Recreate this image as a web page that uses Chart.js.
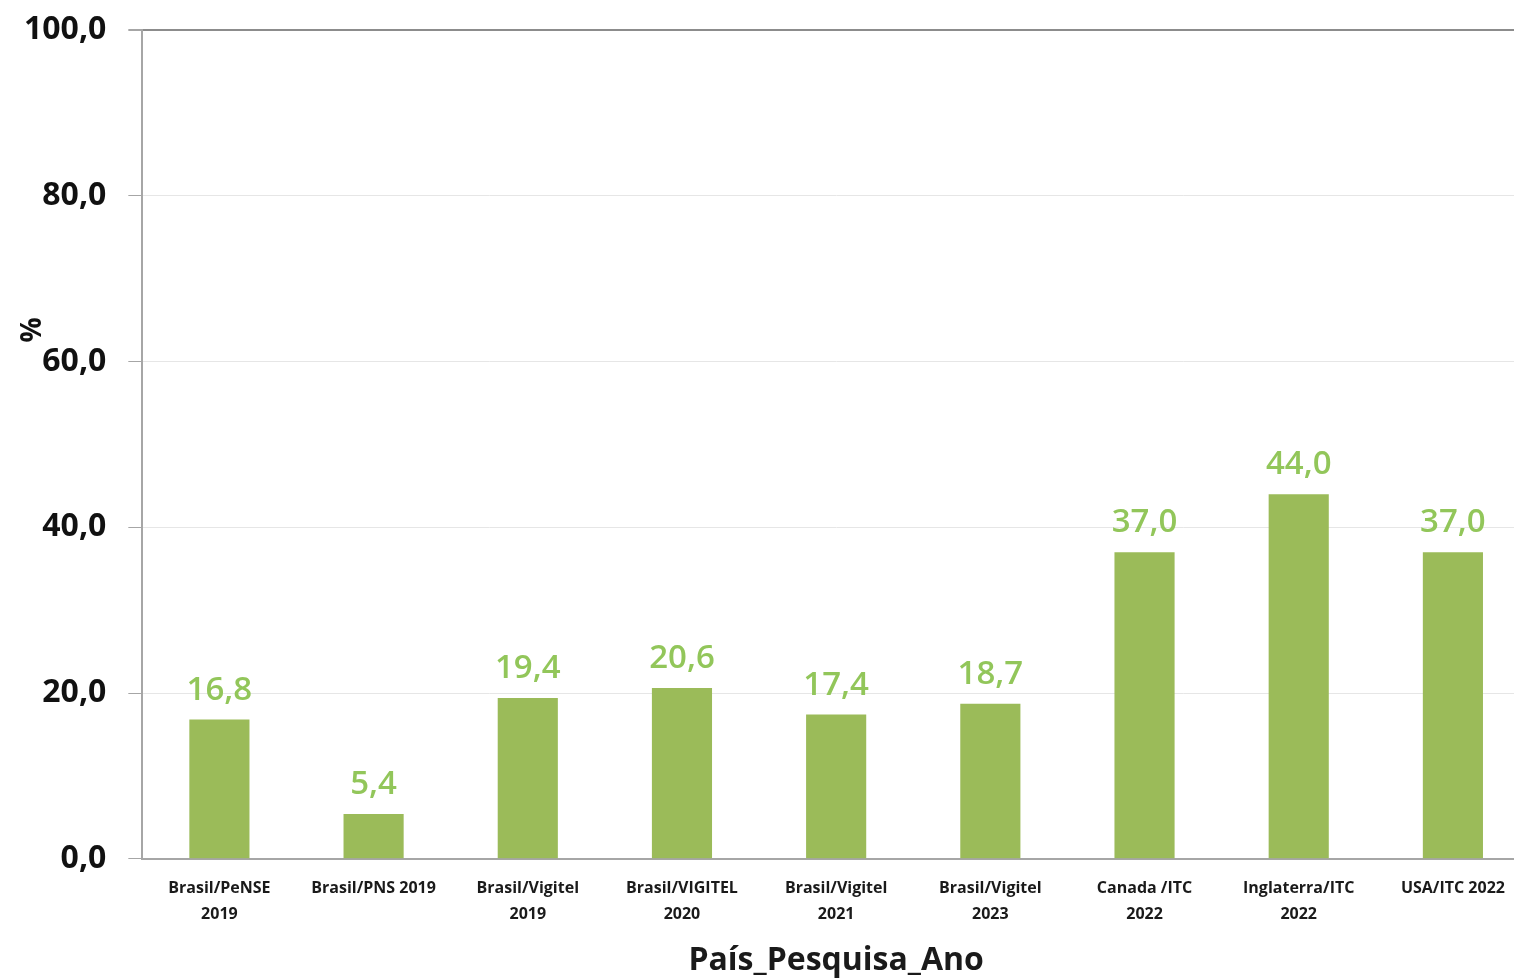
<!DOCTYPE html>
<html>
<head>
<meta charset="utf-8">
<title>País_Pesquisa_Ano</title>
<script src="https://cdn.jsdelivr.net/npm/chart.js@4"></script>
<style>
    html, body { margin: 0; padding: 0; background: #fff; overflow: hidden; }
    #wrap { width: 1532px; height: 980px; position: relative; }
</style>
</head>
<body>
<div id="wrap"><canvas id="prevChart"></canvas></div>
<script>
// Categories (multi-line tick labels)
const categories = [
    ['Brasil/PeNSE', '2019'],
    ['Brasil/PNS 2019'],
    ['Brasil/Vigitel', '2019'],
    ['Brasil/VIGITEL', '2020'],
    ['Brasil/Vigitel', '2021'],
    ['Brasil/Vigitel', '2023'],
    ['Canada /ITC', '2022'],
    ['Inglaterra/ITC', '2022'],
    ['USA/ITC 2022']
];
const values = [16.8, 5.4, 19.4, 20.6, 17.4, 18.7, 37.0, 44.0, 37.0];
const yTicks = [0, 20, 40, 60, 80, 100];

function fmt(v) {
    return v.toFixed(1).replace('.', ',');
}

// Value labels above the bars
const barLabels = {
    id: 'barLabels',
    afterDatasetsDraw(chart) {
        const ctx = chart.ctx;
        const meta = chart.getDatasetMeta(0);
        ctx.save();
        ctx.font = '600 33px "Open Sans"';
        ctx.fillStyle = '#92c65a';
        ctx.textAlign = 'center';
        ctx.textBaseline = 'alphabetic';
        meta.data.forEach((bar, i) => {
            ctx.fillText(fmt(values[i]), bar.x, bar.y - 20);
        });
        ctx.restore();
    }
};

// "%" axis title sits up near the 60 tick in the original
const yTitle = {
    id: 'yTitle',
    afterDraw(chart) {
        const ctx = chart.ctx;
        ctx.save();
        ctx.translate(33, 330);
        ctx.rotate(-Math.PI / 2);
        ctx.font = 'bold 28px "Open Sans"';
        ctx.fillStyle = '#111';
        ctx.textAlign = 'center';
        ctx.textBaseline = 'middle';
        ctx.fillText('%', 0, 0);
        ctx.restore();
    }
};

document.addEventListener('DOMContentLoaded', function() {
    const ctx = document.getElementById('prevChart').getContext('2d');
    const prevChart = new Chart(ctx, {
        type: 'bar',
        data: {
            labels: categories,
            datasets: [{
                label: '%',
                data: values,
                backgroundColor: '#9bbb59',
                borderWidth: 0,
                barPercentage: 0.39,
                categoryPercentage: 1.0
            }]
        },
        options: {
            responsive: true,
            maintainAspectRatio: false,
            animation: false,
            devicePixelRatio: 1,
            layout: {
                padding: { top: 0, left: 2, right: 2, bottom: 0 }
            },
            plugins: {
                legend: { display: false },
                tooltip: { enabled: false }
            },
            scales: {
                x: {
                    grid: { display: false },
                    border: { display: true, color: '#a6a6a6', width: 2 },
                    ticks: {
                        color: '#1a1a1a',
                        padding: 8,
                        maxRotation: 0,
                        autoSkip: false,
                        font: { family: 'Open Sans', size: 16, weight: 'bold', lineHeight: 1.65 }
                    },
                    title: {
                        display: true,
                        text: 'País_Pesquisa_Ano',
                        color: '#1a1a1a',
                        padding: { top: 6, bottom: 0 },
                        font: { family: 'Open Sans', size: 32, weight: 'bold' }
                    }
                },
                y: {
                    min: 0,
                    max: 100,
                    afterBuildTicks(axis) {
                        axis.ticks = yTicks.map(v => ({ value: v }));
                    },
                    grid: {
                        color: c => c.tick && c.tick.value === 100 ? '#8c8c8c' : '#e6e6e6',
                        lineWidth: c => c.tick && c.tick.value === 100 ? 2 : 1,
                        tickColor: '#a6a6a6',
                        tickLength: 14
                    },
                    border: { display: true, color: '#a6a6a6', width: 2 },
                    ticks: {
                        color: '#111',
                        padding: 22,
                        callback: v => fmt(v),
                        font: { family: 'Open Sans', size: 32, weight: 'bold', lineHeight: 0.5 }
                    }
                }
            }
        },
        plugins: [barLabels, yTitle]
    });
});
</script>
</body>
</html>
